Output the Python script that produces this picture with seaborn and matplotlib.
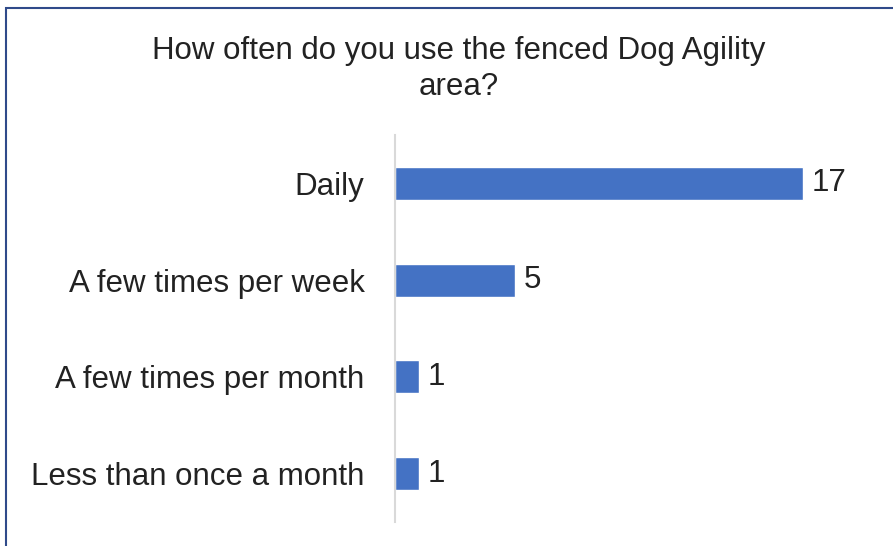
import matplotlib
matplotlib.use("Agg")
import matplotlib.pyplot as plt
import seaborn as sns
import pandas as pd
from matplotlib.patches import Rectangle

# Survey answers
categories = ["Daily", "A few times per week", "A few times per month", "Less than once a month"]
counts = [17, 5, 1, 1]

df = pd.DataFrame({"answer": categories, "count": counts})

sns.set_style("white")
plt.rcParams["font.family"] = ["Liberation Sans", "DejaVu Sans"]

fig = plt.figure(figsize=(8.93, 5.46), dpi=100)
W, H = 893, 546
ax = fig.add_axes([395 / W, 1 - 522 / H, 432 / W, 387 / H])

sns.barplot(data=df, x="count", y="answer", color="#4472C4", width=0.34,
            saturation=1, ax=ax)

ax.set_xlim(0, 18)
ax.set_xlabel("")
ax.set_ylabel("")
ax.set_xticks([])
ax.tick_params(axis="y", length=0, pad=22, labelsize=22.5, labelcolor="#222222")
for side in ["top", "right", "bottom"]:
    ax.spines[side].set_visible(False)
ax.spines["left"].set_color("#D9D9D9")
ax.spines["left"].set_linewidth(1.5)

for i, v in enumerate(counts):
    ax.text(v + 0.35, i, str(v), va="center", ha="left", fontsize=22.5, color="#222222")

fig.text(459 / W, 1 - 69 / H, "How often do you use the fenced Dog Agility\narea?",
         ha="center", va="center", fontsize=22.5, color="#222222", linespacing=1.22)

# outer chart border (offset like the source screenshot)
fig.patches.append(Rectangle((5.5 / W, -0.1), 1.2, 1 - 7.5 / H + 0.1,
                             transform=fig.transFigure, fill=False,
                             edgecolor="#2F4A8A", linewidth=1.5))

fig.savefig("out.png", dpi=100)
